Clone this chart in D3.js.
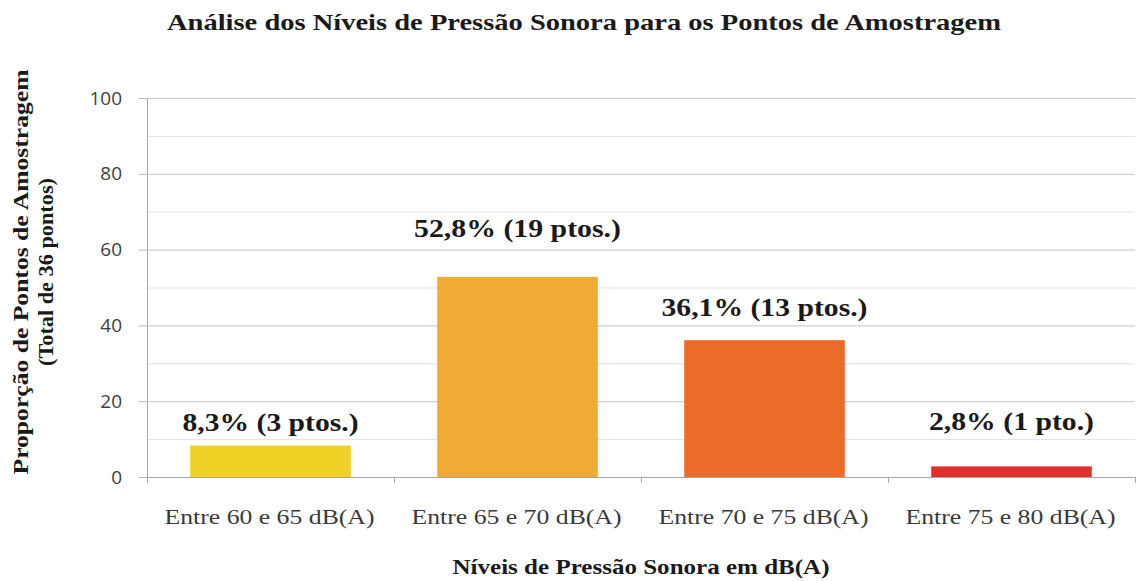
<!DOCTYPE html>
<html>
<head>
<meta charset="utf-8">
<script src="https://cdn.jsdelivr.net/npm/d3@7"></script>
<style>
  html, body { margin: 0; padding: 0; background: #ffffff; }
  svg { display: block; }
  .serif { font-family: "Liberation Serif", "Times New Roman", Times, serif; }
  .sans { font-family: "Open Sans", "Liberation Sans", Arial, sans-serif; }
</style>
</head>
<body>
<svg id="chart" width="1136" height="581"></svg>
<script>
// ---- data ----
const categories = ["Entre 60 e 65 dB(A)", "Entre 65 e 70 dB(A)", "Entre 70 e 75 dB(A)", "Entre 75 e 80 dB(A)"];
const percentages = [8.3, 52.8, 36.1, 2.8];
const pointCounts = [3, 19, 13, 1];
const valueLabels = ["8,3% (3 ptos.)", "52,8% (19 ptos.)", "36,1% (13 ptos.)", "2,8% (1 pto.)"];
const yTicks = [0, 20, 40, 60, 80, 100];
const yMinorTicks = [10, 30, 50, 70, 90];
const title = "Análise dos Níveis de Pressão Sonora para os Pontos de Amostragem";
const xTitle = "Níveis de Pressão Sonora em dB(A)";
const yTitleLines = ["Proporção de Pontos de Amostragem", "(Total de 36 pontos)"];

// ---- layout / style ----
const barColors = ["#F1D126", "#F0AA36", "#EE6C2A", "#E0302D"];
const labelLift = [15, 40, 24, 36];   // manual label placement above bar tops (px)
const labelWidths = [176, 207, 206, 165];
const plot = { left: 147, right: 1135, top: 98, bottom: 477 };

const svg = d3.select("#chart");

const x = d3.scaleBand()
  .domain(categories)
  .range([plot.left, plot.right])
  .paddingInner(0.35)
  .paddingOuter(0.175);

const y = d3.scaleLinear().domain([0, 100]).range([plot.bottom, plot.top]);

// minor gridlines
svg.append("g").selectAll("line").data(yMinorTicks).join("line")
  .attr("x1", plot.left).attr("x2", plot.right)
  .attr("y1", d => y(d) + 0.5).attr("y2", d => y(d) + 0.5)
  .attr("stroke", "#e2e2e2").attr("stroke-width", 1);

// y axis with major gridlines
const yAxis = svg.append("g")
  .attr("transform", `translate(${plot.left},0)`)
  .call(d3.axisLeft(y).tickValues(yTicks).tickSize(8).tickPadding(17).tickFormat(d3.format("d")));
yAxis.attr("font-family", null).attr("font-size", null);
yAxis.select(".domain").attr("stroke", "#a6a6a6");
yAxis.selectAll(".tick line").attr("stroke", "#b5b5b5");
yAxis.selectAll(".tick text")
  .attr("class", "sans")
  .style("font-size", "19px").attr("fill", "#404040");
yAxis.selectAll(".tick").filter(d => d > 0).append("line")
  .attr("x1", 0).attr("x2", plot.right - plot.left)
  .attr("stroke", "#c8c8c8");

// bars
svg.append("g").selectAll("rect").data(percentages).join("rect")
  .attr("x", (d, i) => x(categories[i]))
  .attr("width", x.bandwidth())
  .attr("y", d => y(d))
  .attr("height", d => y(0) - y(d))
  .attr("fill", (d, i) => barColors[i]);

// x axis
const xAxis = svg.append("g")
  .attr("transform", `translate(0,${plot.bottom})`)
  .call(d3.axisBottom(x).tickSize(0).tickPadding(0));
xAxis.select(".domain").attr("stroke", "#a6a6a6");
xAxis.selectAll(".tick text").remove();
const step = x.step();
const boundaries = d3.range(categories.length + 1).map(i => plot.left + i * step);
xAxis.append("g").selectAll("line").data(boundaries).join("line")
  .attr("x1", d => Math.round(d) + 0.5).attr("x2", d => Math.round(d) + 0.5)
  .attr("y1", 0).attr("y2", 6).attr("stroke", "#a6a6a6");

// category labels
svg.append("g").selectAll("text").data(categories).join("text")
  .attr("class", "serif")
  .attr("x", d => x(d) + x.bandwidth() / 2 - 1)
  .attr("y", 524)
  .attr("text-anchor", "middle")
  .style("font-size", "20px").attr("fill", "#3a3a3a")
  .attr("textLength", 210).attr("lengthAdjust", "spacingAndGlyphs")
  .text(d => d);

// value labels
svg.append("g").selectAll("text").data(percentages).join("text")
  .attr("class", "serif")
  .attr("x", (d, i) => x(categories[i]) + x.bandwidth() / 2)
  .attr("y", (d, i) => y(d) - labelLift[i])
  .attr("text-anchor", "middle")
  .style("font-weight", "bold").style("font-size", "25px").attr("fill", "#1a1a1a")
  .attr("textLength", (d, i) => labelWidths[i]).attr("lengthAdjust", "spacingAndGlyphs")
  .text((d, i) => valueLabels[i]);

// title
svg.append("text")
  .attr("class", "serif")
  .attr("x", 584).attr("y", 30)
  .attr("text-anchor", "middle")
  .style("font-weight", "bold").style("font-size", "24px").attr("fill", "#1a1a1a")
  .attr("textLength", 834).attr("lengthAdjust", "spacingAndGlyphs")
  .text(title);

// x axis title
svg.append("text")
  .attr("class", "serif")
  .attr("x", (plot.left + plot.right) / 2).attr("y", 574)
  .attr("text-anchor", "middle")
  .style("font-weight", "bold").style("font-size", "21px").attr("fill", "#1a1a1a")
  .attr("textLength", 377).attr("lengthAdjust", "spacingAndGlyphs")
  .text(xTitle);

// y axis title (two lines, rotated)
const yTitle = svg.append("g").attr("transform", "translate(0,272) rotate(-90)");
yTitle.append("text")
  .attr("class", "serif")
  .attr("x", 0).attr("y", 28)
  .attr("text-anchor", "middle")
  .style("font-weight", "bold").style("font-size", "21px").attr("fill", "#1a1a1a")
  .attr("textLength", 405).attr("lengthAdjust", "spacingAndGlyphs")
  .text(yTitleLines[0]);
yTitle.append("text")
  .attr("class", "serif")
  .attr("x", 0).attr("y", 53)
  .attr("text-anchor", "middle")
  .style("font-weight", "bold").style("font-size", "21px").attr("fill", "#1a1a1a")
  .attr("textLength", 188).attr("lengthAdjust", "spacingAndGlyphs")
  .text(yTitleLines[1]);
</script>
</body>
</html>
